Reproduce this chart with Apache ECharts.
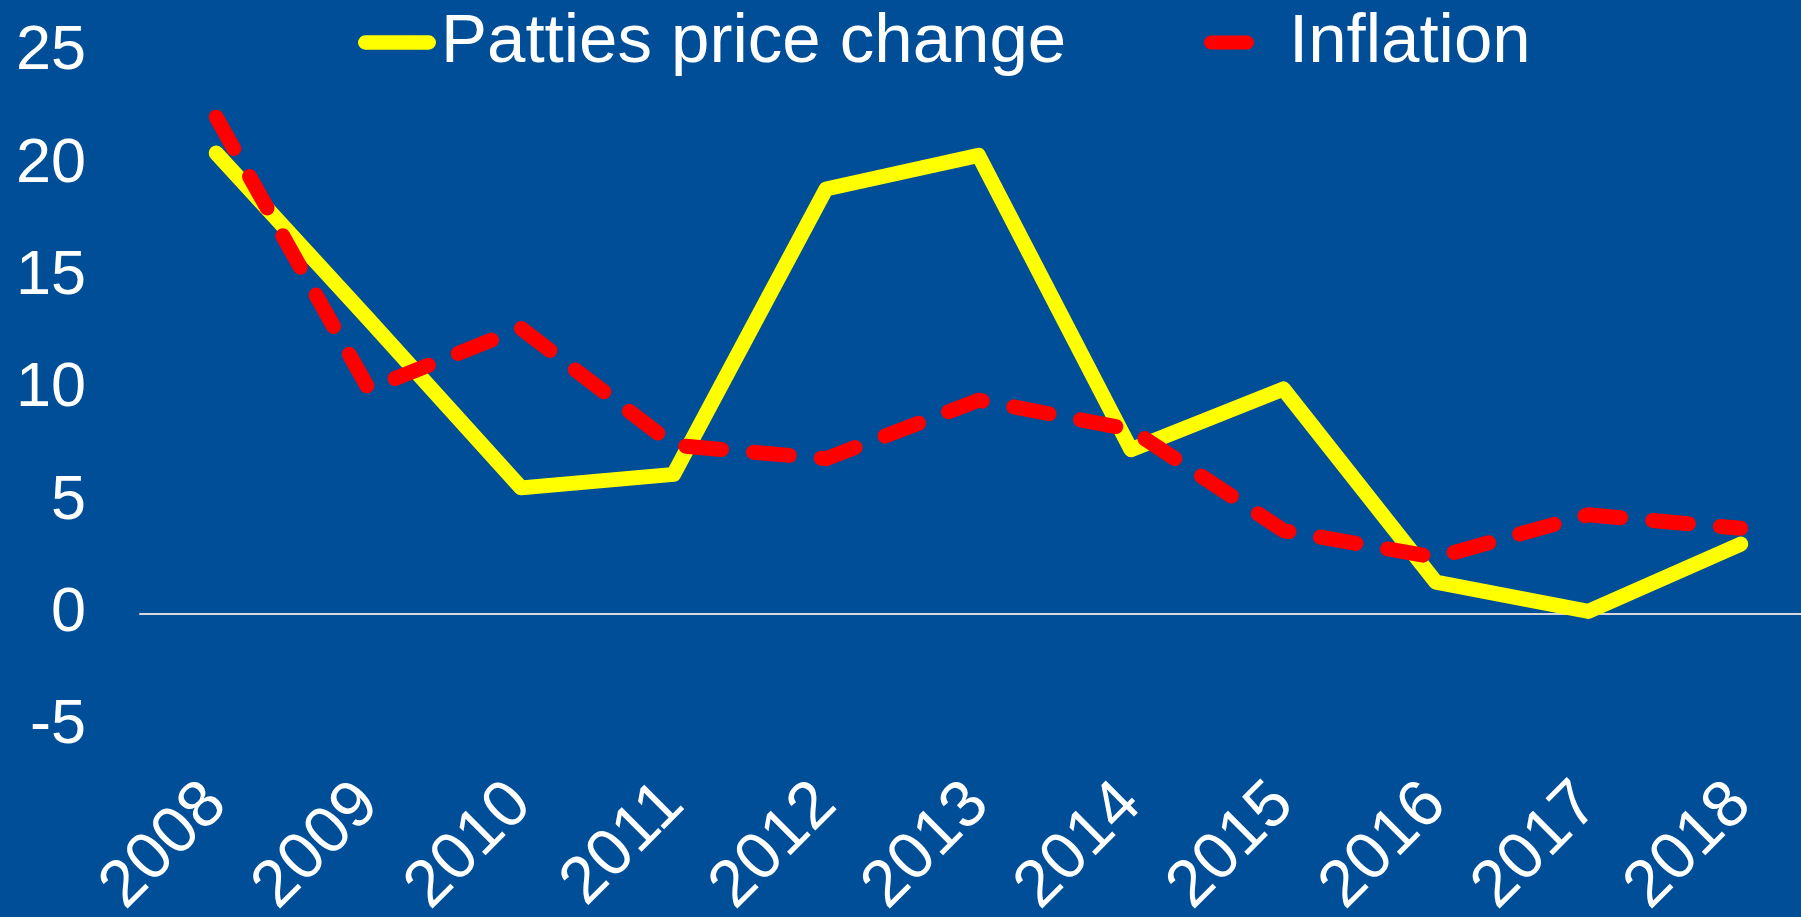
<!DOCTYPE html>
<html>
<head>
<meta charset="utf-8">
<script src="https://cdn.jsdelivr.net/npm/echarts@6/dist/echarts.min.js"></script>
<style>
html,body{margin:0;padding:0;background:#004E97;}
#chart{width:1801px;height:917px;}
</style>
</head>
<body>
<div id="chart"></div>
<script>
var years = ['2008','2009','2010','2011','2012','2013','2014','2015','2016','2017','2018'];
var pattiesPriceChange = [20.5, 13.1, 5.6, 6.2, 18.9, 20.4, 7.3, 10.0, 1.4, 0.1, 3.1];
var inflation = [22.1, 10.0, 12.7, 7.5, 6.9, 9.5, 8.2, 3.7, 2.5, 4.4, 3.8];
var yTicks = {min: -5, max: 25, interval: 5};
var seriesNames = ['Patties price change', 'Inflation'];

var chart = echarts.init(document.getElementById('chart'));
var font = 'Liberation Sans, Arial, sans-serif';
chart.setOption({
  backgroundColor: '#004E97',
  animation: false,
  legend: [{
    left: 358, top: 8, padding: 0,
    data: [{name: seriesNames[0]}],
    icon: 'path://M7,0 H69 A7,7 0 0 1 69,14 H7 A7,7 0 0 1 7,0 Z',
    itemWidth: 78, itemHeight: 15,
    itemStyle: {borderWidth: 0},
    textStyle: {color: '#fff', fontSize: 69, fontFamily: font}
  }, {
    left: 1204, top: 8, padding: 0,
    data: [{name: seriesNames[1]}],
    icon: 'path://M7,0 H43 A7,7 0 0 1 43,14 H7 A7,7 0 0 1 7,0 Z',
    itemWidth: 50, itemHeight: 15,
    itemStyle: {borderWidth: 0},
    textStyle: {color: '#fff', fontSize: 69, fontFamily: font, padding: [0,0,0,30]}
  }],
  grid: {left: 140, right: -16, top: 52, bottom: 191, containLabel: false, outerBoundsMode: 'none'},
  xAxis: [{
    type: 'category', data: years, position: 'bottom',
    axisLine: {show: true, onZero: true, lineStyle: {color: '#D9D9D9', width: 2}},
    axisTick: {show: false}, axisLabel: {show: false}, splitLine: {show: false}
  }, {
    type: 'category', data: years, position: 'bottom',
    axisLine: {show: false, onZero: false},
    axisTick: {show: false},
    axisLabel: {show: true, rotate: 45, color: '#fff', fontSize: 66, fontFamily: font, margin: 68, interval: 0},
    splitLine: {show: false}
  }],
  yAxis: {
    type: 'value', min: yTicks.min, max: yTicks.max, interval: yTicks.interval,
    axisLine: {show: false}, axisTick: {show: false}, splitLine: {show: false},
    axisLabel: {color: '#fff', fontSize: 63, fontFamily: font, margin: 54}
  },
  series: [{
    name: seriesNames[0], type: 'line', data: pattiesPriceChange, xAxisIndex: 0,
    symbol: 'none', color: '#FFFF00',
    lineStyle: {color: '#FFFF00', width: 15, cap: 'round', join: 'round'}
  }, {
    name: seriesNames[1], type: 'line', data: inflation, xAxisIndex: 0,
    symbol: 'none', color: '#FF0000',
    lineStyle: {color: '#FF0000', width: 15, type: [36, 32], cap: 'round', join: 'round'}
  }]
});
</script>
</body>
</html>
